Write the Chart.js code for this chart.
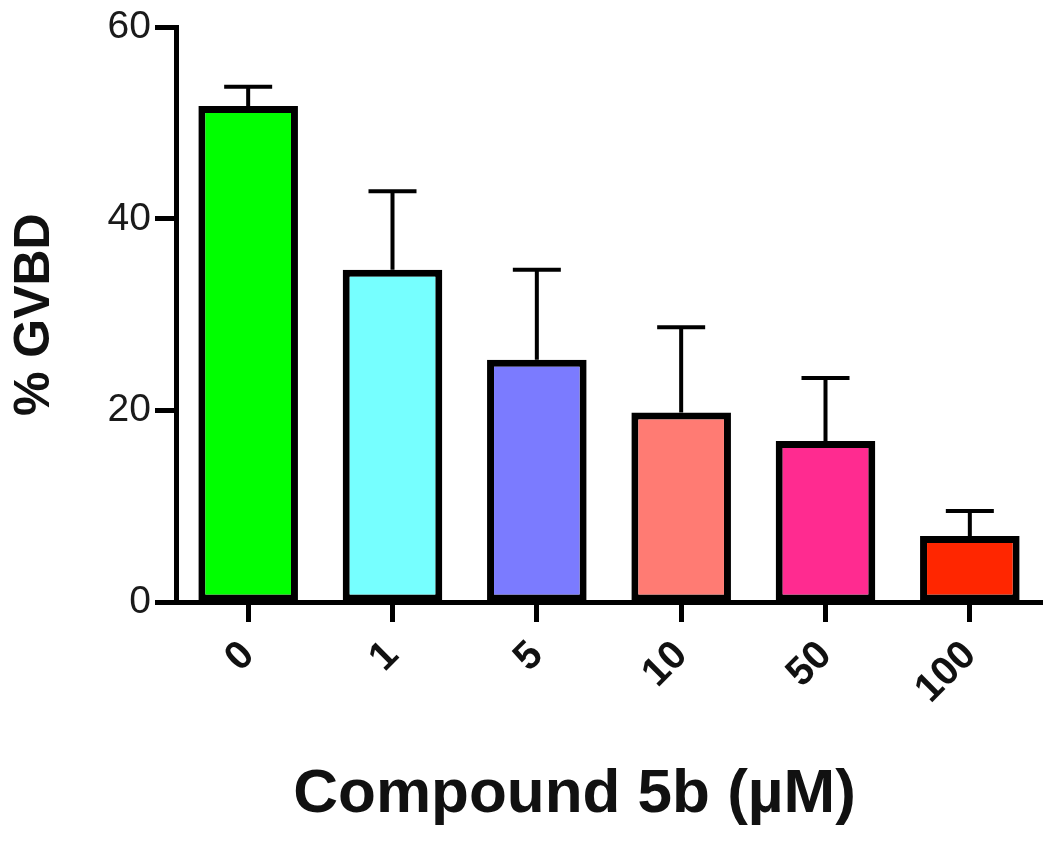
<!DOCTYPE html>
<html>
<head>
<meta charset="utf-8">
<script src="https://cdn.jsdelivr.net/npm/chart.js@4.4.1/dist/chart.umd.min.js"></script>
<style>
html,body{margin:0;padding:0;background:#fff;}
#wrap{width:1050px;height:844px;}
</style>
</head>
<body>
<div id="wrap"><canvas id="c" width="1050" height="844"></canvas></div>
<script>
const categories = ['0', '1', '5', '10', '50', '100'];
const gvbdMean = [51.8, 34.7, 25.3, 19.8, 16.8, 6.9];
const gvbdSem = [2.0, 8.2, 9.4, 8.9, 6.6, 2.6];
const barColors = ['#00FF00', '#76FFFF', '#7B7BFF', '#FF7B73', '#FF2B90', '#FF2600'];
const yTicks = [0, 20, 40, 60];
const xTitle = 'Compound 5b (\u00b5M)';
const yTitle = '% GVBD';

const FONT = "'Liberation Sans', Arial, sans-serif";

const errorBars = {
  id: 'errorBars',
  afterDatasetsDraw(chart) {
    const ctx = chart.ctx;
    const meta = chart.getDatasetMeta(0);
    const ys = chart.scales.y;
    ctx.save();
    ctx.strokeStyle = '#000';
    ctx.lineWidth = 4;
    meta.data.forEach((bar, i) => {
      const x = bar.x;
      const yTop = ys.getPixelForValue(gvbdMean[i] + gvbdSem[i]);
      const yBar = ys.getPixelForValue(gvbdMean[i]);
      ctx.beginPath();
      ctx.moveTo(x, yBar);
      ctx.lineTo(x, yTop);
      ctx.moveTo(x - 24, yTop);
      ctx.lineTo(x + 24, yTop);
      ctx.stroke();
    });
    ctx.restore();
  }
};

new Chart(document.getElementById('c'), {
  type: 'bar',
  data: {
    labels: categories,
    datasets: [{
      data: gvbdMean,
      backgroundColor: barColors,
      borderColor: '#000',
      borderWidth: 7,
      borderSkipped: false,
      barPercentage: 0.69,
      categoryPercentage: 1.0
    }]
  },
  options: {
    responsive: false,
    animation: false,
    layout: { padding: { top: 22, right: 8, bottom: 0, left: 0 } },
    plugins: { legend: { display: false }, tooltip: { enabled: false } },
    scales: {
      x: {
        offset: true,
        grid: { display: true, drawOnChartArea: false, offset: false, tickLength: 20, tickWidth: 5, tickColor: '#000' },
        border: { display: true, color: '#000', width: 5 },
        ticks: {
          color: '#111', padding: 10, maxRotation: 45, minRotation: 45,
          font: { family: FONT, size: 40, weight: 'bold' }
        },
        title: {
          display: true,
          text: xTitle + '\u00a0\u00a0\u00a0\u00a0',
          color: '#111',
          font: { family: FONT, size: 62, weight: 'bold' },
          padding: { top: 0, bottom: 12 }
        },
        afterFit(s) { s.height = 242; }
      },
      y: {
        min: 0, max: 60,
        afterBuildTicks(s) { s.ticks = yTicks.map(v => ({ value: v })); },
        grid: { display: true, drawOnChartArea: false, tickLength: 21, tickWidth: 5, tickColor: '#000' },
        border: { display: true, color: '#000', width: 5 },
        ticks: {
          color: '#1a1a1a', padding: 4,
          font: { family: FONT, size: 39, weight: 'normal' }
        },
        title: {
          display: true,
          text: yTitle,
          color: '#111',
          font: { family: FONT, size: 50, weight: 'bold' },
          padding: { top: 5, bottom: 0 }
        },
        afterFit(s) { s.width = 176; }
      }
    }
  },
  plugins: [errorBars]
});
</script>
</body>
</html>
